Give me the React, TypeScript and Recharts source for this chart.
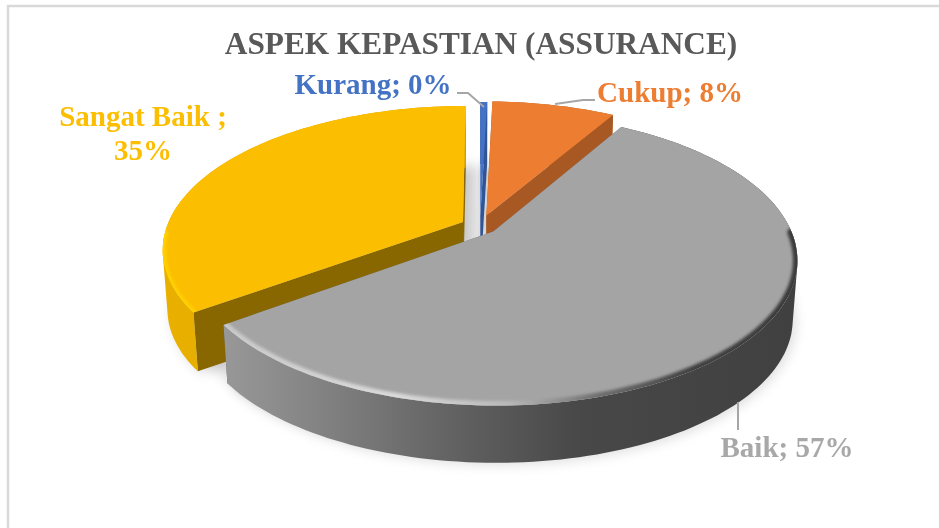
import React from "react";
import { PieChart, Pie, Cell } from "recharts";

const categories = ["Sangat Baik", "Kurang", "Cukup", "Baik"];
const values = [35, 0.45, 8, 56.55];
const colors = ["#FCBE00", "#4472C4", "#ED7D31", "#A4A4A4"];
const title = "ASPEK KEPASTIAN (ASSURANCE)";

const data = categories.map((name, i) => ({ name, value: values[i], color: colors[i] }));

// view of the pie: perspective and thickness
const FOCAL = 0.187;
const FLATTEN = 139 / 296;
const THICK = 60;
const FLOOR = 0.985;
const EXPLODE: Record<string, number> = { "Sangat Baik": 0.065, Kurang: 0.07, Cukup: 0.08, Baik: 0.06 };

const STYLE: Record<string, any> = {
  "Sangat Baik": {
    wall: [["0%", "#E9B000"], ["100%", "#D9A400"]],
    side: "#886600",
    rim: [["0%", "#FFD800"], ["100%", "#FFD000"]],
    rimW: 6,
    vertical: true,
    rimFrom: 10,
  },
  Kurang: { wall: [["0%", "#2F5597"], ["100%", "#2F5597"]], side: "#2F5597", rim: null, rimW: 0 },
  Cukup: { wall: [["0%", "#A85822"], ["100%", "#A85822"]], side: "#A85822", rim: null, rimW: 0 },
  Baik: {
    wall: [["0%", "#989898"], ["15%", "#858585"], ["40%", "#626262"], ["62%", "#484848"], ["100%", "#404040"]],
    side: "#6a6a6a",
    rim: [["0%", "#C8C8C8"], ["30%", "#DADADA"], ["50%", "#B8B8B8"], ["65%", "#707070"], ["82%", "#404040"], ["100%", "#3a3a3a"]],
    rimW: 9,
    vertical: false,
    rimFrom: 0,
  },
};

const LABELS: Record<string, any> = {
  Kurang: { x: 373, lines: [[94, (p: number) => `Kurang; ${p}%`]], color: "#4472C4", leader: "M457 93 L468 93 L484 107" },
  Cukup: { x: 670, lines: [[102, (p: number) => `Cukup; ${p}%`]], color: "#ED7D31", leader: "M555 104 L583 100 L595 100" },
  Baik: { x: 787, lines: [[457, (p: number) => `Baik; ${p}%`]], color: "#A8A8A8", leader: "M738 402 L738 430" },
  "Sangat Baik": {
    x: 143,
    lines: [[126, () => "Sangat Baik ;"], [160, (p: number) => `${p}%`]],
    color: "#FCBE00",
    leader: "",
  },
};

const RAD = Math.PI / 180;

function project(cx: number, cy: number, R: number, x: number, z: number) {
  const s = 1 / (1 - FOCAL * z);
  return [cx + R * x * s, cy + R * FLATTEN * z * s];
}

function geometry(p: any, explode = true) {
  const { cx, cy, outerRadius: R, startAngle, endAngle, midAngle, name } = p;
  const mid = midAngle ?? (startAngle + endAngle) / 2;
  const e = explode ? EXPLODE[name] ?? 0 : 0;
  const ox = e * Math.cos(mid * RAD);
  const oz = -e * Math.sin(mid * RAD);
  const apex = project(cx, cy, R, ox, oz);
  const arc: number[][] = [];
  const n = Math.max(4, Math.ceil(Math.abs(endAngle - startAngle) / 1.5));
  for (let i = 0; i <= n; i++) {
    const a = (startAngle + ((endAngle - startAngle) * i) / n) * RAD;
    arc.push(project(cx, cy, R, ox + Math.cos(a), oz - Math.sin(a)));
  }
  const down = (q: number[]) => [cx + (q[0] - cx) * FLOOR, cy + (q[1] - cy) * FLOOR + THICK];
  return { apex, arc, down };
}

const toPath = (pts: number[][], close = false) =>
  pts.map((q, i) => `${i ? "L" : "M"}${q[0].toFixed(1)} ${q[1].toFixed(1)}`).join(" ") + (close ? " Z" : "");

function ShadowSector(props: any) {
  const a = geometry(props);
  const b = geometry(props, false);
  const outer = [a.apex, ...a.arc].map(a.down).map((q) => [q[0] + 3, q[1] + 2]);
  const inner = [b.apex, ...b.arc].map(b.down).map((q) => [q[0], q[1] - 6]);
  return (
    <g>
      <path d={toPath(inner, true)} fill="#000" fillOpacity={0.13} filter="url(#pieShadow)" />
      <path d={toPath(outer, true)} fill="#000" fillOpacity={0.13} filter="url(#pieShadow)" />
    </g>
  );
}

function Sector3D(props: any) {
  const { apex, arc, down } = geometry(props);
  const st = STYLE[props.name];
  const id = props.name.replace(/\s/g, "");
  const first = arc[0];
  const last = arc[arc.length - 1];
  const band = arc
    .slice(1)
    .map((q, i) => {
      const pts = [arc[i], q, down(q), down(arc[i])];
      // keep every quad wound the same way so that the union has no holes
      const area = pts.reduce((s, u, k) => {
        const w = pts[(k + 1) % 4];
        return s + u[0] * w[1] - w[0] * u[1];
      }, 0);
      return toPath(area < 0 ? pts.reverse() : pts, true);
    })
    .join(" ");
  const face = toPath([apex, ...arc], true);
  const rimArc = st.rim ? arc.filter((q) => q[1] > apex[1] + st.rimFrom) : [];
  return (
    <g>
      <defs>
        <linearGradient id={`wall${id}`} x1="0" x2="1" y1="0" y2="0">
          {st.wall.map(([o, c]: string[]) => <stop key={o} offset={o} stopColor={c} />)}
        </linearGradient>
        {st.rim && (
          <linearGradient id={`rim${id}`} gradientUnits="userSpaceOnUse"
            x1={Math.min(...arc.map((q) => q[0]))}
            x2={st.vertical ? Math.min(...arc.map((q) => q[0])) : Math.max(...arc.map((q) => q[0]))}
            y1={Math.min(...arc.map((q) => q[1]))}
            y2={st.vertical ? Math.max(...arc.map((q) => q[1])) : Math.min(...arc.map((q) => q[1]))}>
            {st.rim.map(([o, c]: string[]) => <stop key={o} offset={o} stopColor={c} />)}
          </linearGradient>
        )}
        <clipPath id={`face${id}`}>
          <path d={face} />
        </clipPath>
      </defs>
      <path d={toPath([apex, first, down(first), down(apex)], true)} fill={st.side} />
      <path d={toPath([apex, last, down(last), down(apex)], true)} fill={st.side} />
      <path d={band} fill={`url(#wall${id})`} />
      <path d={face} fill={props.fill} />
      {st.rim && (
        <g clipPath={`url(#face${id})`}>
          <path d={toPath(rimArc)} fill="none" stroke={`url(#rim${id})`} strokeWidth={st.rimW} filter="url(#rimBlur)" strokeLinecap="round" />
        </g>
      )}
    </g>
  );
}

function renderLabel(props: any) {
  const cfg = LABELS[props.name];
  const pct = Math.round((props.percent ?? 0) * 100);
  return (
    <g key={props.name}>
      {cfg.leader && <path d={cfg.leader} fill="none" stroke="#A6A6A6" strokeWidth={2} />}
      {cfg.lines.map(([y, fn]: any, i: number) => (
        <text
          key={i}
          x={cfg.x}
          y={y}
          textAnchor="middle"
          fill={cfg.color}
          fontFamily="'Liberation Serif', serif"
          fontWeight={700}
          fontSize={29}
        >
          {fn(pct)}
        </text>
      ))}
    </g>
  );
}

export default function App() {
  return (
    <div style={{ position: "absolute", left: 0, top: 0, width: 939, height: 528, background: "#fff", overflow: "hidden", filter: "blur(0.5px)" }}>
      <PieChart width={939} height={528} margin={{ top: 0, right: 0, bottom: 0, left: 0 }}>
        <defs>
          <filter id="pieShadow" x="-20%" y="-20%" width="140%" height="140%">
            <feGaussianBlur stdDeviation="6" />
          </filter>
          <filter id="rimBlur" filterUnits="userSpaceOnUse" x="0" y="0" width="939" height="528">
            <feGaussianBlur stdDeviation="1.6" />
          </filter>
        </defs>
        <rect x={8} y={6} width={1000} height={1000} fill="#fff" stroke="#D9D9D9" strokeWidth={2.5} />
        <text x={481} y={54} textAnchor="middle" fill="#595959" fontFamily="'Liberation Serif', serif" fontWeight={700} fontSize={31.3}>
          {title}
        </text>
        <Pie
          data={data}
          dataKey="value"
          nameKey="name"
          cx={480}
          cy={226}
          outerRadius={296}
          startAngle={216}
          endAngle={-144}
          stroke="none"
          isAnimationActive={false}
          shape={ShadowSector}
          label={false}
          labelLine={false}
        />
        <Pie
          data={data}
          dataKey="value"
          nameKey="name"
          cx={480}
          cy={226}
          outerRadius={296}
          startAngle={216}
          endAngle={-144}
          stroke="none"
          isAnimationActive={false}
          shape={Sector3D}
          label={renderLabel}
          labelLine={false}
        >
          {data.map((d) => (
            <Cell key={d.name} fill={d.color} />
          ))}
        </Pie>
      </PieChart>
    </div>
  );
}
